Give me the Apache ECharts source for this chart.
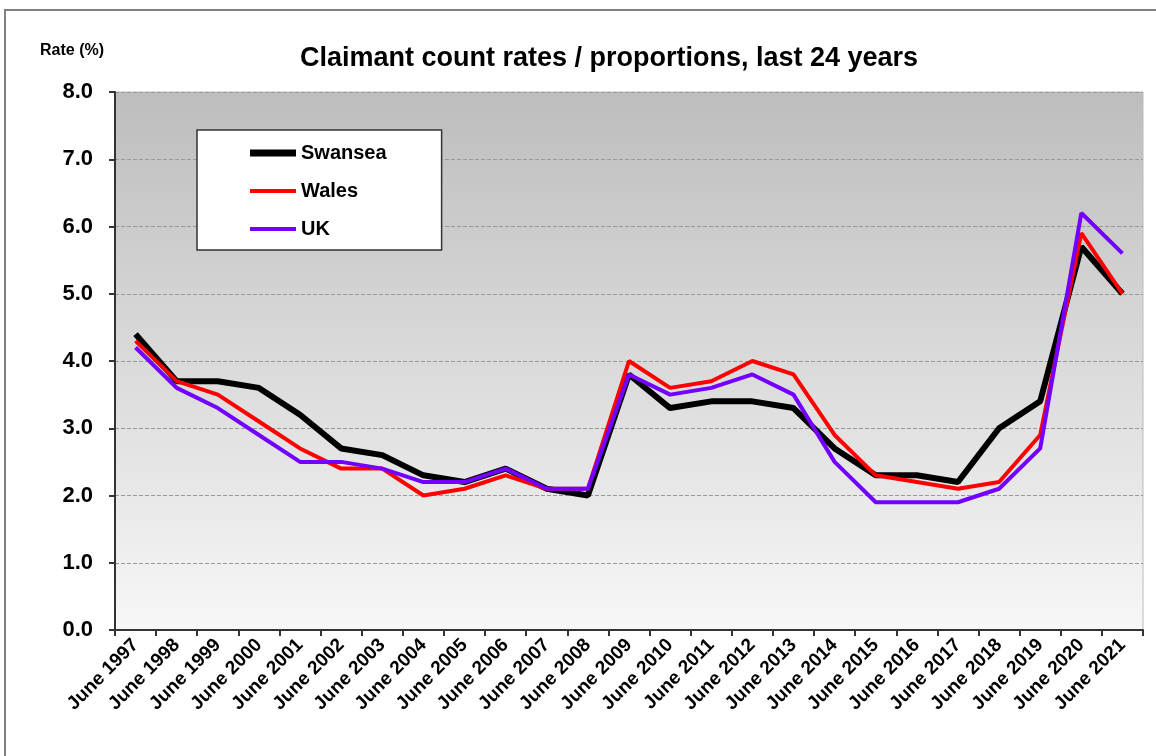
<!DOCTYPE html>
<html>
<head>
<meta charset="utf-8">
<script src="https://cdn.jsdelivr.net/npm/echarts@6/dist/echarts.min.js"></script>
<style>
  html, body { margin: 0; padding: 0; background: #fff; }
  #chart { width: 1156px; height: 756px; }
</style>
</head>
<body>
<div id="chart"></div>
<script>
// data
var years = ['June 1997','June 1998','June 1999','June 2000','June 2001','June 2002','June 2003',
  'June 2004','June 2005','June 2006','June 2007','June 2008','June 2009','June 2010','June 2011',
  'June 2012','June 2013','June 2014','June 2015','June 2016','June 2017','June 2018','June 2019',
  'June 2020','June 2021'];
var swansea = [4.4,3.7,3.7,3.6,3.2,2.7,2.6,2.3,2.2,2.4,2.1,2.0,3.8,3.3,3.4,3.4,3.3,2.7,2.3,2.3,2.2,3.0,3.4,5.7,5.0];
var wales   = [4.3,3.7,3.5,3.1,2.7,2.4,2.4,2.0,2.1,2.3,2.1,2.1,4.0,3.6,3.7,4.0,3.8,2.9,2.3,2.2,2.1,2.2,2.9,5.9,5.0];
var uk      = [4.2,3.6,3.3,2.9,2.5,2.5,2.4,2.2,2.2,2.4,2.1,2.1,3.8,3.5,3.6,3.8,3.5,2.5,1.9,1.9,1.9,2.1,2.7,6.2,5.6];

var font = 'Arial, "Liberation Sans", sans-serif';
var myChart = echarts.init(document.getElementById('chart'));

var option = {
  animation: false,
  title: {
    text: 'Claimant count rates / proportions, last 24 years',
    left: 604, top: 40, textAlign: 'center',
    textStyle: { fontFamily: font, fontWeight: 'bold', fontSize: 27, color: '#000' }
  },
  graphic: [
    // outer frame of the page
    { type: 'rect', shape: { x: 5, y: 10, width: 1300, height: 900 },
      style: { fill: 'none', stroke: '#808080', lineWidth: 2 } },
    { type: 'text', left: 40, top: 43,
      style: { text: 'Rate (%)', fontFamily: font, fontWeight: 'bold', fontSize: 16, fill: '#000' } }
  ],
  legend: {
    orient: 'vertical',
    left: 197, top: 130,
    padding: [13, 55, 11, 53],
    itemGap: 18,
    itemWidth: 46, itemHeight: 14,
    backgroundColor: '#fff',
    borderColor: '#333', borderWidth: 1.5,
    textStyle: { fontFamily: font, fontWeight: 'bold', fontSize: 20, color: '#000' },
    data: [
      { name: 'Swansea', icon: 'path://M0,0H46V7H0Z' },
      { name: 'Wales', icon: 'path://M0,0H46V4H0Z' },
      { name: 'UK', icon: 'path://M0,0H46V4H0Z' }
    ]
  },
  grid: {
    left: 115, right: 13, top: 92, bottom: 126,
    outerBoundsMode: 'none',
    show: true,
    borderColor: '#bbb', borderWidth: 1,
    backgroundColor: {
      type: 'linear', x: 0, y: 0, x2: 0, y2: 1,
      colorStops: [{ offset: 0, color: '#bdbdbd' }, { offset: 1, color: '#f7f7f7' }]
    }
  },
  xAxis: {
    type: 'category',
    data: years,
    boundaryGap: true,
    axisLine: { lineStyle: { color: '#333', width: 2 } },
    axisTick: { show: true, length: 6, lineStyle: { color: '#333', width: 2 } },
    axisLabel: { rotate: 45, interval: 0, margin: 12, fontFamily: font, fontWeight: 'bold', fontSize: 19, color: '#000' },
    splitLine: { show: false }
  },
  yAxis: {
    type: 'value',
    min: 0, max: 8, interval: 1,
    axisLine: { show: true, lineStyle: { color: '#333', width: 2 } },
    axisTick: { show: true, length: 6, lineStyle: { color: '#333', width: 2 } },
    axisLabel: {
      margin: 22, fontFamily: font, fontWeight: 'bold', fontSize: 22, color: '#000',
      formatter: function (v) { return v.toFixed(1); }
    },
    splitLine: { show: true, lineStyle: { color: '#999', type: 'dashed', width: 1 } }
  },
  series: [
    { name: 'Swansea', type: 'line', data: swansea, symbol: 'none',
      itemStyle: { color: '#000' }, lineStyle: { color: '#000', width: 6 } },
    { name: 'Wales', type: 'line', data: wales, symbol: 'none',
      itemStyle: { color: '#ff0000' }, lineStyle: { color: '#ff0000', width: 4 } },
    { name: 'UK', type: 'line', data: uk, symbol: 'none',
      itemStyle: { color: '#7300ff' }, lineStyle: { color: '#7300ff', width: 4 } }
  ]
};

myChart.setOption(option);
</script>
</body>
</html>
